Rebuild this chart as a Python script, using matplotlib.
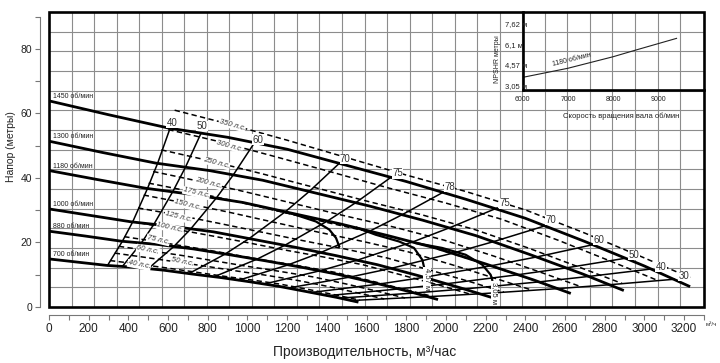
import matplotlib
matplotlib.use('Agg')
import matplotlib.pyplot as plt
from matplotlib.patches import Rectangle

plt.rcParams['font.family'] = ['Liberation Sans', 'DejaVu Sans']

# Head curves at each shaft speed: flow (m3/h) and head (m)
SPEED_NAMES = ['1450 об/мин', '1300 об/мин', '1180 об/мин', '1000 об/мин', '880 об/мин', '700 об/мин']
Q_1450 = [0, 300, 600, 900, 1200, 1500, 1800, 2100, 2400, 2700, 3000, 3230]
H_1450 = [63.9, 59.6, 55.5, 52.6, 48.9, 43.9, 38.9, 33.4, 27.5, 20.3, 12.7, 6.3]
Q_1300 = [0, 269, 538, 807, 1076, 1345, 1614, 1883, 2152, 2421, 2690, 2896]
H_1300 = [51.4, 47.9, 44.6, 42.3, 39.3, 35.3, 31.3, 26.9, 22.1, 16.3, 10.2, 5.1]
Q_1180 = [0, 244, 488, 732, 977, 1221, 1465, 1709, 1953, 2197, 2441, 2629]
H_1180 = [42.3, 39.5, 36.8, 34.8, 32.4, 29.1, 25.8, 22.1, 18.2, 13.4, 8.4, 4.2]
Q_1000 = [0, 207, 414, 621, 828, 1035, 1242, 1448, 1655, 1862, 2069, 2228]
H_1000 = [30.4, 28.4, 26.4, 25.0, 23.3, 20.9, 18.5, 15.9, 13.1, 9.7, 6.0, 3.0]
Q_880 = [0, 182, 364, 546, 728, 910, 1092, 1275, 1457, 1639, 1821, 1960]
H_880 = [23.5, 22.0, 20.4, 19.4, 18.0, 16.2, 14.3, 12.3, 10.1, 7.5, 4.7, 2.3]
Q_700 = [0, 145, 290, 435, 579, 724, 869, 1014, 1159, 1304, 1448, 1559]
H_700 = [14.9, 13.9, 12.9, 12.3, 11.4, 10.2, 9.1, 7.8, 6.4, 4.7, 3.0, 1.5]
SPEED_Q = [Q_1450, Q_1300, Q_1180, Q_1000, Q_880, Q_700]
SPEED_H = [H_1450, H_1300, H_1180, H_1000, H_880, H_700]

# Constant power lines (horse power)
HP_NAMES = ['350 л.с.', '300 л.с.', '250 л.с.', '200 л.с.', '175 л.с.', '150 л.с.',
            '125 л.с.', '100 л.с.', '75 л.с.', '60 л.с.', '50 л.с.', '40 л.с.']
HP_Q = [
    [633, 900, 1200, 1500, 1800, 2100, 2400, 2700, 3000, 3230],
    [601, 855, 1140, 1425, 1710, 1995, 2280, 2565, 2850, 3068],
    [566, 805, 1073, 1341, 1609, 1877, 2145, 2414, 2682, 2887],
    [525, 747, 996, 1245, 1494, 1743, 1992, 2240, 2489, 2680],
    [502, 714, 952, 1191, 1429, 1667, 1905, 2143, 2381, 2564],
    [477, 679, 905, 1131, 1357, 1583, 1809, 2036, 2262, 2435],
    [449, 639, 851, 1064, 1277, 1490, 1703, 1916, 2129, 2292],
    [417, 593, 790, 988, 1185, 1383, 1581, 1778, 1976, 2127],
    [379, 538, 718, 897, 1077, 1256, 1436, 1615, 1795, 1932],
    [352, 500, 667, 833, 1000, 1167, 1333, 1500, 1667, 1794],
    [331, 471, 627, 784, 941, 1098, 1255, 1412, 1568, 1689],
    [307, 437, 582, 728, 873, 1019, 1164, 1310, 1455, 1567],
]
HP_H = [
    [61.0, 56.8, 51.7, 46.3, 40.9, 35.8, 30.1, 22.9, 15.2, 9.1],
    [55.0, 51.3, 46.6, 41.8, 36.9, 32.3, 27.2, 20.7, 13.7, 8.2],
    [48.7, 45.4, 41.3, 37.0, 32.7, 28.6, 24.0, 18.3, 12.1, 7.3],
    [42.0, 39.1, 35.6, 31.9, 28.2, 24.7, 20.7, 15.8, 10.5, 6.3],
    [38.4, 35.8, 32.6, 29.2, 25.8, 22.6, 19.0, 14.4, 9.6, 5.7],
    [34.7, 32.3, 29.4, 26.3, 23.2, 20.3, 17.1, 13.0, 8.6, 5.2],
    [30.7, 28.6, 26.0, 23.3, 20.6, 18.0, 15.2, 11.5, 7.7, 4.6],
    [26.5, 24.6, 22.4, 20.1, 17.7, 15.5, 13.1, 9.9, 6.6, 3.9],
    [21.8, 20.3, 18.5, 16.6, 14.6, 12.8, 10.8, 8.2, 5.4, 3.3],
    [18.8, 17.5, 16.0, 14.3, 12.6, 11.0, 9.3, 7.1, 4.7, 2.8],
    [16.7, 15.5, 14.1, 12.7, 11.2, 9.8, 8.2, 6.3, 4.2, 2.5],
    [14.4, 13.4, 12.2, 10.9, 9.6, 8.4, 7.1, 5.4, 3.6, 2.1],
]

# Iso-efficiency curves (%), from 700 to 1450 rpm
EFF_NAMES = ['40', '50', '60', '70', '75', '78', '75', '70', '60', '50', '40', '30']
EFF_Q = [
    [295, 370, 421, 496, 547, 610],
    [370, 466, 529, 624, 688, 767],
    [500, 628, 714, 842, 928, 1035],
    [706, 887, 1008, 1190, 1311, 1462],
    [833, 1047, 1190, 1404, 1547, 1725],
    [956, 1202, 1366, 1612, 1776, 1981],
    [1090, 1370, 1557, 1838, 2024, 2258],
    [1207, 1518, 1725, 2035, 2242, 2501],
    [1322, 1662, 1889, 2229, 2456, 2739],
    [1402, 1762, 2002, 2362, 2603, 2903],
    [1466, 1843, 2095, 2472, 2723, 3037],
    [1521, 1912, 2173, 2564, 2824, 3150],
]
EFF_H = [
    [12.9, 20.4, 26.3, 36.7, 44.5, 55.4],
    [12.6, 19.9, 25.7, 35.8, 43.4, 54.0],
    [11.9, 18.7, 24.2, 33.7, 40.9, 50.9],
    [10.4, 16.4, 21.2, 29.5, 35.8, 44.5],
    [9.4, 14.8, 19.2, 26.7, 32.4, 40.3],
    [8.3, 13.0, 16.8, 23.4, 28.5, 35.4],
    [7.2, 11.3, 14.6, 20.3, 24.7, 30.7],
    [5.9, 9.3, 12.0, 16.7, 20.3, 25.2],
    [4.5, 7.1, 9.2, 12.8, 15.5, 19.3],
    [3.5, 5.6, 7.2, 10.0, 12.1, 15.1],
    [2.75, 4.35, 5.6, 7.8, 9.5, 11.8],
    [2.0, 3.2, 4.1, 5.7, 6.9, 8.6],
]

# NPSH limit arcs
NPSH_NAMES = ['', '4,57 м', '3,05 м']
NPSH_Q = [
    [1150, 1236, 1345, 1412, 1446, 1462],
    [1550, 1646, 1764, 1839, 1881, 1889],
    [1850, 1981, 2099, 2183, 2225, 2233],
]
NPSH_H = [
    [30.0, 28.7, 26.5, 24.0, 21.4, 18.8],
    [24.6, 22.4, 20.3, 18.3, 14.6, 12.5],
    [19.8, 18.3, 16.2, 13.1, 10.0, 8.4],
]

# Inset: NPSHR vs shaft speed
INSET_SPEED = [6000, 7000, 8000, 8500, 9400]
INSET_NPSHR = [3.98, 4.65, 5.50, 5.99, 6.85]
INSET_YTICKS = [7.62, 6.1, 4.57, 3.05]
INSET_YLABELS = ['7,62 м', '6,1 м', '4,57 м', '3,05 м']

# label anchors (flow, head)
EFF_LABEL_POS = [(621, 57.0), (772, 56.1), (1054, 51.8), (1493, 45.9), (1756, 41.5), (2018, 37.2),
                 (2295, 32.2), (2528, 27.0), (2770, 20.8), (2947, 16.1), (3083, 12.4), (3199, 9.6)]
HP_LABEL_POS = [(923, 56.4), (908, 49.9), (843, 44.6), (802, 38.4), (742, 35.3), (696, 31.6),
                (651, 27.9), (610, 24.5), (550, 20.8), (499, 17.7), (671, 13.9), (454, 13.0)]
HP_LABEL_ROT = [-16, -16, -15, -15, -14, -14, -14, -13, -13, -12, -12, -11]
NPSH_LABEL_POS = [None, (1905, 8.7), (2245, 4.4)]

fig = plt.figure(figsize=(7.2, 3.63), dpi=100)
ax = fig.add_axes([49 / 720, 56 / 363, 655 / 720, 295 / 363])
ax.set_xlim(0, 3300)
ax.set_ylim(0, 91.44)

# background grid (500 US gpm x 20 ft)
for i in range(1, 29):
    ax.axvline(i * 113.56, color='#8c8c8c', lw=0.8, zorder=0)
for j in range(1, 15):
    ax.axhline(j * 6.096, color='#8c8c8c', lw=0.8, zorder=0)

ax.add_patch(Rectangle((0, 0), 1, 1, transform=ax.transAxes, fill=False,
                       lw=1.9, ec='black', clip_on=False, zorder=6))

for q, h in zip(HP_Q, HP_H):
    ax.plot(q, h, color='black', lw=1.1, dashes=(3.5, 2.2), zorder=2)
for q, h in zip(EFF_Q, EFF_H):
    ax.plot(q, h, color='black', lw=1.1, zorder=3)
for q, h in zip(SPEED_Q, SPEED_H):
    ax.plot(q, h, color='black', lw=2.0, zorder=4, solid_capstyle='butt')
for q, h in zip(NPSH_Q, NPSH_H):
    ax.plot(q, h, color='black', lw=1.6, zorder=4)

white = dict(facecolor='white', edgecolor='none', pad=0.3)
for name, h in zip(SPEED_NAMES, SPEED_H):
    ax.text(20, h[0] + 1.3, name, fontsize=5, color='#222', ha='left', va='center', zorder=7)
for name, (x, y) in zip(EFF_NAMES, EFF_LABEL_POS):
    ax.text(x, y, name, fontsize=7, color='#333', ha='center', va='center', bbox=white, zorder=7)
for name, (x, y), rot in zip(HP_NAMES, HP_LABEL_POS, HP_LABEL_ROT):
    ax.text(x, y, name, fontsize=5.5, style='italic', color='#333', ha='center', va='center',
            rotation=rot, rotation_mode='anchor', bbox=white, zorder=7)
for name, pos in zip(NPSH_NAMES, NPSH_LABEL_POS):
    if pos:
        ax.text(pos[0], pos[1], name, fontsize=5.5, color='#222', ha='center', va='center',
                rotation=-90, bbox=white, zorder=7)

for s in ['top', 'right']:
    ax.spines[s].set_visible(False)
ax.spines['left'].set_position(('outward', 6.5))
ax.spines['bottom'].set_position(('outward', 5.8))
ax.spines['left'].set_bounds(0, 90)
ax.spines['bottom'].set_bounds(0, 3300)
for s in ['left', 'bottom']:
    ax.spines[s].set_color('#777')
    ax.spines[s].set_linewidth(0.8)

ax.set_xticks(range(0, 3201, 200))
ax.set_xticks(range(0, 3301, 100), minor=True)
ax.set_yticks([0, 20, 40, 60, 80])
ax.set_yticks([10, 30, 50, 70, 90], minor=True)
ax.tick_params(axis='x', which='both', length=3.5, width=0.8, color='#777',
               labelsize=8.5, labelcolor='#222', pad=2)
ax.tick_params(axis='y', which='both', length=3.5, width=0.8, color='#777',
               labelsize=7.5, labelcolor='#222', pad=2)

fig.text(365 / 720, 1 - 352 / 363, 'Производительность, м³/час', fontsize=10,
         color='#222', ha='center', va='center')
fig.text(11 / 720, 1 - 147 / 363, 'Напор (метры)', fontsize=7.5, color='#222',
         rotation=90, ha='center', va='center')
fig.text(711 / 720, 1 - 324 / 363, 'м³/ч', fontsize=4.5, color='#333', ha='center', va='center')

# inset
ins = fig.add_axes([522.7 / 720, 273 / 363, 181 / 720, 78 / 363])
ins.patch.set_visible(False)
ins.set_xlim(6000, 10000)
ins.set_ylim(3.05, 8.79)
for s in ['top', 'right']:
    ins.spines[s].set_visible(False)
for s in ['left', 'bottom']:
    ins.spines[s].set_linewidth(1.9)
ins.set_xticks([6000, 7000, 8000, 9000])
ins.set_yticks([])
ins.tick_params(axis='x', length=0, labelsize=5, pad=4, labelcolor='#222')
ins.plot(INSET_SPEED, INSET_NPSHR, color='#222', lw=0.8)
ins.text(7090, 5.3, '1180 об/мин', fontsize=5, color='#222', ha='center', va='center', rotation=14)
for v, lab in zip(INSET_YTICKS, INSET_YLABELS):
    ins.text(-0.098, v, lab, transform=ins.get_yaxis_transform(), fontsize=5.5, color='#222',
             ha='left', va='bottom')
fig.text(497.5 / 720, 1 - 59 / 363, 'NPSHR метры', fontsize=5, color='#222',
         rotation=90, ha='center', va='center')
fig.text(621 / 720, 1 - 116.7 / 363, 'Скорость вращения вала об/мин', fontsize=5.5,
         color='#222', ha='center', va='center')

fig.savefig('out.png', dpi=100)
